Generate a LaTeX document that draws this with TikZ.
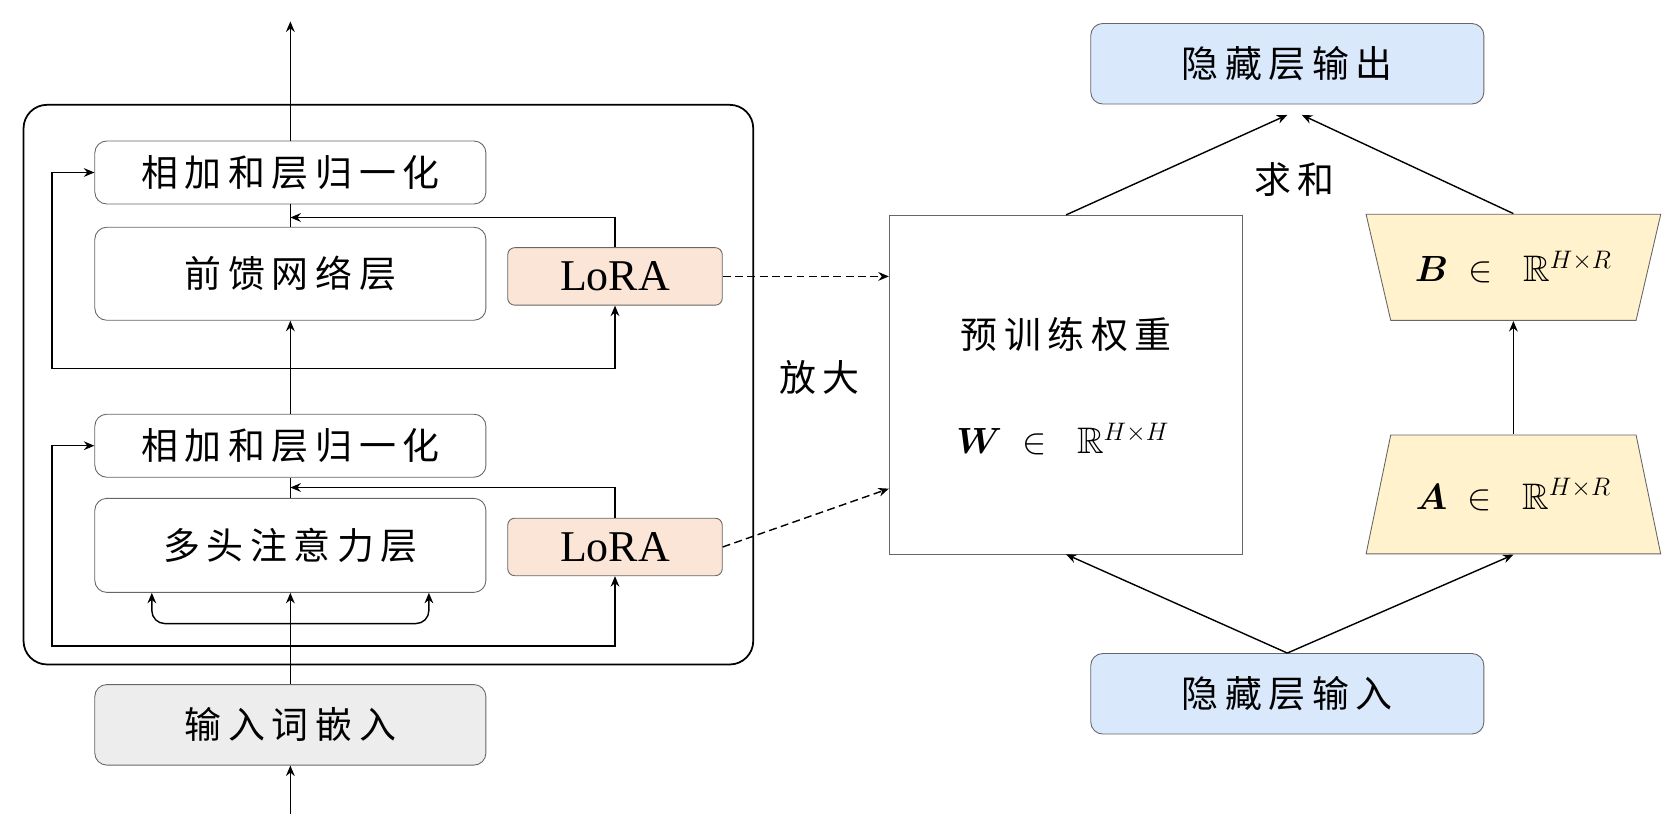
\documentclass[tikz,border=0pt]{standalone}
\usepackage{amsmath,amssymb}
\usepackage{fontspec}
\setmainfont{Liberation Serif}
\newfontfamily\cjk{Noto Sans CJK SC}[LetterSpace=18]
\usetikzlibrary{arrows.meta}
\definecolor{loracol}{HTML}{FBE5D6}
\definecolor{hidcol}{HTML}{DAE8FC}
\definecolor{matcol}{HTML}{FFF2CC}
\definecolor{embcol}{HTML}{EDEDED}
\definecolor{edgecol}{HTML}{666666}

\begin{document}
\begin{tikzpicture}[x=0.021429cm,y=-0.021429cm,line width=0.8pt,>={Stealth[length=6pt,width=5pt,inset=2pt]}]
		\tikzstyle{layer}=[draw=edgecol,line width=0.5pt,rounded corners=0.24cm,minimum width=7.82cm,font=\cjk\fontsize{21}{24}\selectfont]
		\tikzstyle{lora}=[draw=edgecol,line width=0.5pt,fill=loracol,rounded corners=0.14cm,minimum width=4.29cm,minimum height=1.15cm,font=\fontsize{25}{28}\selectfont]
		\tikzstyle{hidden}=[draw=edgecol,line width=0.5pt,fill=hidcol,rounded corners=0.24cm,minimum width=7.86cm,minimum height=1.61cm,font=\cjk\fontsize{21}{24}\selectfont]
		\tikzstyle{matfill}=[draw=edgecol,line width=0.5pt,fill=matcol]
		\tikzstyle{mat}=[minimum width=5.89cm,font=\fontsize{21}{24}\selectfont]
		\tikzstyle{annot}=[font=\cjk\fontsize{21}{24}\selectfont]
		\tikzstyle{lorapath}=[->,dashed,dash pattern=on 4.5pt off 2.5pt]

		\useasboundingbox (0,0) rectangle (1568,771);

		% transformer block
		\node[draw,line width=1pt,rounded corners=0.47cm,minimum width=14.59cm,minimum height=11.19cm](block) at (362.5,359){};

		\node[layer,minimum height=1.26cm](an1) at (271,161){相加和层归一化};
		\node[layer,minimum height=1.86cm](ffn) at (271,255.5){前馈网络层};
		\node[lora](lora1) at (574,258){LoRA};

		\node[layer,minimum height=1.26cm](an2) at (271,416){相加和层归一化};
		\node[layer,minimum height=1.88cm](mha) at (271,509){多头注意力层};
		\node[lora](lora2) at (574,510.5){LoRA};

		\node[layer,fill=embcol,minimum height=1.61cm](emb) at (271,676.5){输入词嵌入};

		\coordinate (top) at (271,20);
		\coordinate (bottom) at (271,760);
		\coordinate (join1) at (271,203);
		\coordinate (join2) at (271,455);
		\coordinate (res1) at (271,344);
		\coordinate (res2) at (271,603);
		\coordinate (split) at (271,582);

		\draw[->] (an1) -- (top);
		\draw (ffn) -- (an1);
		\draw[->] (an2) -- (ffn);
		\draw (mha) -- (an2);
		\draw[->] (emb) -- (mha);
		\draw[->] (bottom) -- (emb);

		\foreach \l/\j in {lora1/join1,lora2/join2}
		{
		  \draw[->] (\l.north) |- (\j);
		}

		\foreach \r/\l/\a in {res1/lora1/an1,res2/lora2/an2}
		{
		  \draw[->] (\r) -| (\l.south);
		  \draw[->] (\r) -| ([xshift=-0.85cm]\a.west) -- (\a.west);
		}

		\foreach \s in {-2.77,2.77}
		{
		  \draw[->,rounded corners=0.26cm] (split) -| ([xshift=\s cm]mha.south);
		}

		% LoRA side
		\node[draw=edgecol,line width=0.5pt,minimum width=7.07cm,minimum height=6.77cm](W) at (995,359){};
		\node[annot](wname) at (995,312){预训练权重};
		\node[font=\fontsize{21}{24}\selectfont](wdim) at (992,410){$\boldsymbol{W}\;\in\;\;\mathbb{R}^{H\times H}$};

		\node[hidden](hout) at (1201.5,59.5){隐藏层输出};
		\node[hidden](hin) at (1201.5,647.5){隐藏层输入};

		\draw[matfill] (1298,406) -- (1527,406) -- (1550,517) -- (1275,517) -- cycle;
		\draw[matfill] (1275,200) -- (1550,200) -- (1527,299) -- (1298,299) -- cycle;
		\node[mat,minimum height=2.38cm](A) at (1412.5,461.5){$\boldsymbol{A}\;\in\;\;\mathbb{R}^{H\times R}$};
		\node[mat,minimum height=2.12cm](B) at (1412.5,249.5){$\boldsymbol{B}\;\in\;\;\mathbb{R}^{H\times R}$};

		\draw[lorapath] (lora1.east) -- (lora1.east -| W.west);
		\draw[lorapath] (lora2.east) -- ([yshift=-2.08cm]W.west);

		\draw[->] (hin.north) -- (W.south);
		\draw[->] (hin.north) -- (A.south);
		\draw[->] (A) -- (B);
		\draw[->] (W.north) -- ([yshift=-0.21cm]hout.south);
		\draw[->] (B.north) -- ([xshift=0.29cm,yshift=-0.21cm]hout.south);

		\node[annot](sum) at (1208,168){求和};
		\node[annot](zoom) at (765,352){放大};

\end{tikzpicture}
\end{document}
